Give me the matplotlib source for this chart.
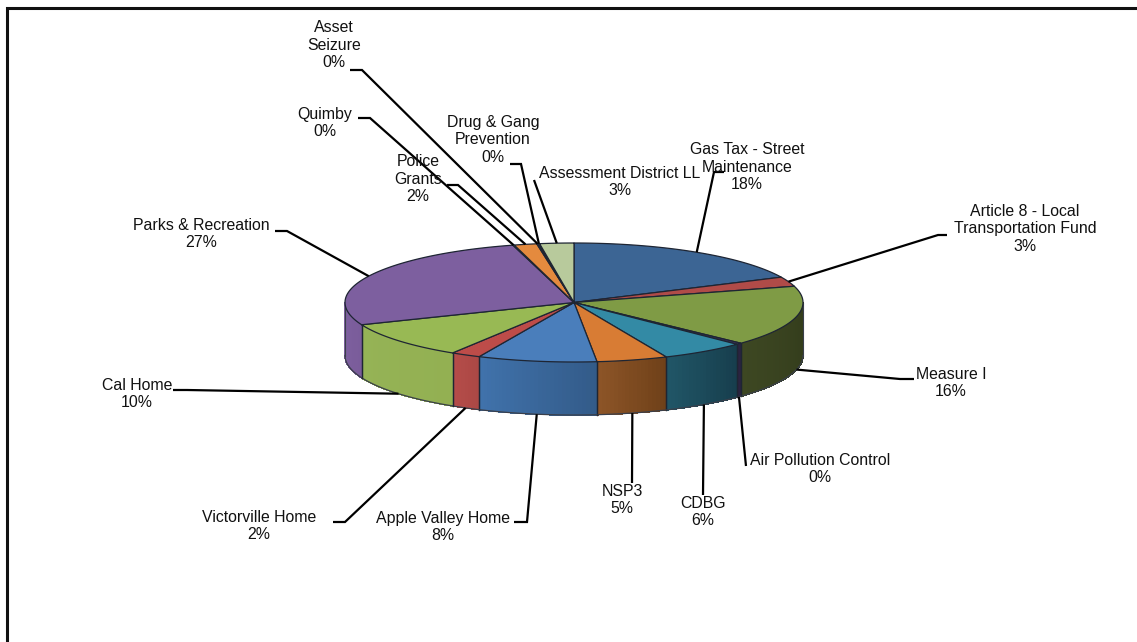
import numpy as np
import matplotlib
matplotlib.use("Agg")
import matplotlib.pyplot as plt
from matplotlib.colors import to_rgb

plt.rcParams['font.family'] = ['Liberation Sans', 'DejaVu Sans']

# slices, clockwise from 12 o'clock
names = ["Gas Tax - Street\nMaintenance", "Article 8 - Local\nTransportation Fund", "Measure I",
         "Air Pollution Control", "CDBG", "NSP3", "Apple Valley Home", "Victorville Home",
         "Cal Home", "Parks & Recreation", "Quimby", "Police\nGrants", "Asset\nSeizure",
         "Drug & Gang\nPrevention", "Assessment District LL"]
values = [18.0, 2.6, 16.4, 0.4, 6.0, 5.0, 8.4, 2.1, 10.0, 26.8, 0.1, 1.6, 0.1, 0.1, 2.4]
shown_pct = [18, 3, 16, 0, 6, 5, 8, 2, 10, 27, 0, 2, 0, 0, 3]

top_colors = ["#3c6594", "#b04b48", "#7f9b45", "#3c3060", "#338aa5", "#d87c34", "#4a7ebb", "#bd4c49",
              "#98b954", "#7d5f9f", "#d0803a", "#e48a3e", "#d0803a", "#d0803a", "#b8ca9c"]
side_left = ["#3c6594", "#b04b48", "#3d4722", "#2b2340", "#205566", "#8c5427", "#4072ab", "#b44c49",
             "#95b356", "#7e60a0", "#d0803a", "#e48a3e", "#d0803a", "#d0803a", "#b8ca9c"]
side_right = ["#3c6594", "#b04b48", "#323b1b", "#2b2340", "#173e4d", "#6f4119", "#335b89", "#ac4845",
              "#93b052", "#7a5c9a", "#d0803a", "#e48a3e", "#d0803a", "#d0803a", "#b8ca9c"]

# label centre and leader elbow, in figure pixels
label_xy = [(747, 167), (1025, 229), (951, 383), (820, 469), (703, 512), (622, 500), (443, 527), (259, 526),
            (137, 394), (201, 234), (325, 123), (418, 179), (334, 45), (493, 140), (620, 182)]
leader_pts = [[(724, 172), (714, 172)], [(947, 235), (938, 235)], [(914, 379), (900, 379)], [(746, 466)],
              [(703, 495)], [(632, 483)], [(514, 522), (527, 522)], [(333, 522), (345, 522)],
              [(173, 390), (187, 390)], [(275, 231), (287, 231)], [(358, 118), (370, 118)],
              [(447, 185), (458, 185)], [(350, 70), (362, 70)], [(510, 164), (521, 164)], [(534, 180)]]

cx, cy = 574, 302.5
rx, ry = 229, 59.5
depth = 53
edge = "#1e2533"


def ell(theta):
    return cx + rx * np.sin(theta), cy - ry * np.cos(theta)


fig = plt.figure(figsize=(11.37, 6.42), dpi=100)
ax = fig.add_axes([0, 0, 1, 1])
ax.set_xlim(0, 1137)
ax.set_ylim(642, 0)
ax.axis("off")

# frame has only left and top sides
ax.plot([6.5, 6.5, 1137], [642, 7.5, 7.5], color="#111111", lw=2.2, solid_joinstyle="miter")

bounds = np.radians(np.concatenate(([0], np.cumsum(values))) * 3.6)

# side wall, front half only
for i in range(len(values)):
    a = max(bounds[i], np.pi / 2)
    b = min(bounds[i + 1], 3 * np.pi / 2)
    if b <= a:
        continue
    n = max(int(np.degrees(b - a)), 1)
    ts = np.linspace(a, b, n + 1)
    c_a = np.array(to_rgb(side_right[i]))
    c_b = np.array(to_rgb(side_left[i]))
    for j in range(n):
        x, y = ell(np.linspace(ts[j], ts[j + 1], 3))
        f = j / max(n - 1, 1)
        col = c_a * (1 - f) + c_b * f
        ax.fill(np.r_[x, x[::-1]], np.r_[y, y[::-1] + depth], color=col, lw=0.5, zorder=2, antialiased=False)
    for t in (a, b):
        x, y = ell(t)
        if i == 3 or t not in (np.pi / 2, 3 * np.pi / 2):
            ax.plot([x, x], [y, y + depth], color=edge, lw=0.9, zorder=3)
    x, y = ell(np.linspace(a, b, 60))
    ax.plot(x, y + depth, color="#3a3f4a", lw=0.9, zorder=3)

# outer verticals of the wall
for t in (np.pi / 2, 3 * np.pi / 2):
    x, y = ell(t)
    ax.plot([x, x], [y, y + depth], color="#3a3f4a", lw=0.8, zorder=3)

# top face
for i in range(len(values)):
    x, y = ell(np.linspace(bounds[i], bounds[i + 1], 80))
    ax.fill(np.r_[cx, x], np.r_[cy, y], facecolor=top_colors[i], edgecolor=edge, lw=0.9, zorder=4,
            joinstyle="round")

# leaders run from label to the rim at the slice's mid angle
for i in range(len(values)):
    mid = (bounds[i] + bounds[i + 1]) / 2
    x, y = ell(mid)
    if np.cos(mid) < 0:
        y += depth
    pts = leader_pts[i] + [(x, y)]
    ax.plot([p[0] for p in pts], [p[1] for p in pts], color="black", lw=1.6, zorder=5,
            solid_joinstyle="miter", solid_capstyle="butt")

for i in range(len(values)):
    ax.text(label_xy[i][0], label_xy[i][1], f"{names[i]}\n{shown_pct[i]}%", ha="center", va="center",
            fontsize=11.4, color="#111111", linespacing=1.22, zorder=6)

fig.savefig("out.png", dpi=100)
